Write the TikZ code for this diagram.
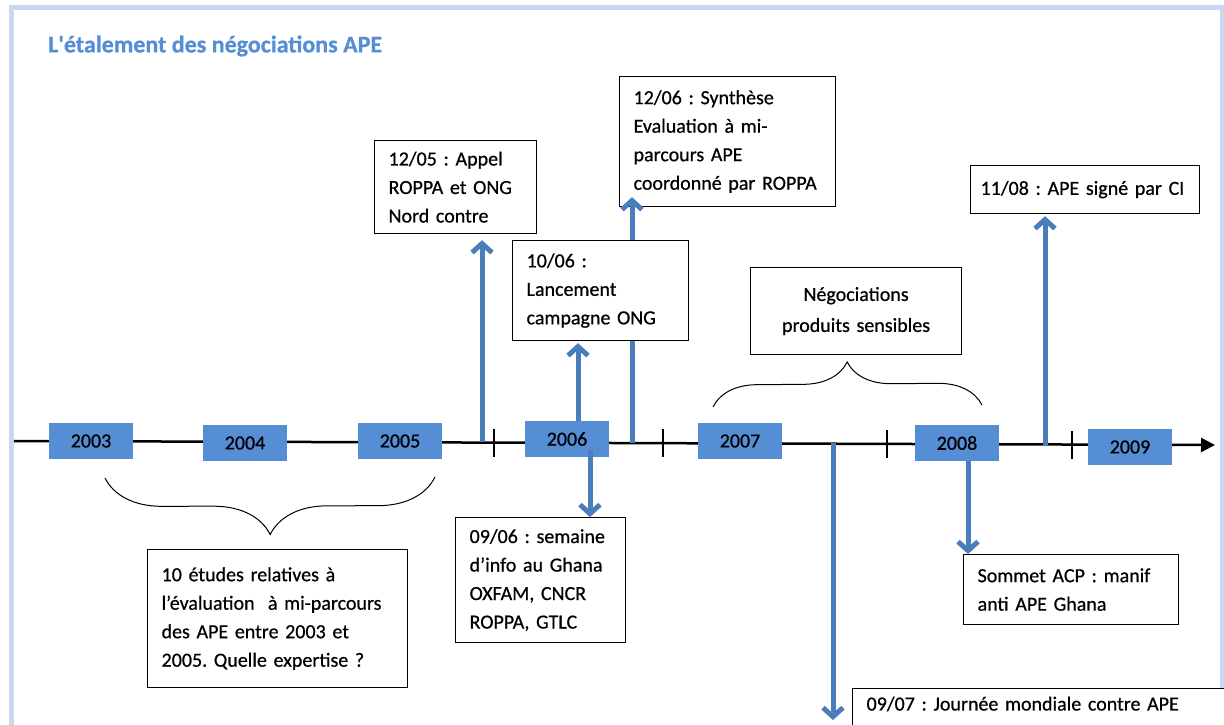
\documentclass[tikz,border=0pt]{standalone}
\usepackage{fontspec}
\setmainfont{Carlito}[FakeBold=0.6]
\usepackage{tikz}
\usetikzlibrary{positioning,calc,arrows.meta,decorations.pathreplacing}
\definecolor{yearblue}{HTML}{558ED5}
\definecolor{arrowblue}{HTML}{4A7EBB}
\definecolor{frameblue}{HTML}{C6D9F1}
\definecolor{titleblue}{HTML}{558ED5}
\frenchspacing
\tikzset{>=stealth,
  evt/.style={draw, fill=white, line width=1.2pt, align=left, anchor=north west,
    inner xsep=14pt, inner ysep=0pt, font=\fontsize{20}{28.5}\selectfont},
  yr/.style={fill=yearblue, minimum width=84pt, minimum height=36pt, inner sep=0pt,
    font=\fontsize{20}{24}\selectfont},
  evarrow/.style={arrowblue, line width=5pt, -{Straight Barb[length=9pt,width=20pt]}},
  yrtick/.style={line width=2.5pt},
  curly/.style={decorate, decoration={brace, amplitude=#1}, line width=1pt}
}

\begin{document}
\begin{tikzpicture}[x=1pt,y=-1pt]
\useasboundingbox (0,0) rectangle (1224,724);
\clip (0,0) rectangle (1224,724);
% cadre
\draw[frameblue, line width=5pt] (11,760) -- (11,7) -- (1222,7) -- (1222,760);
\node[anchor=west, inner sep=0pt, text=titleblue, font=\bfseries\fontsize{24}{28}\selectfont] (title) at (48,46) {L\textquotesingle étalement des négociations APE};
% axe du temps
\coordinate (tlstart) at (14,441);
\coordinate (tlend) at (1215,445);
\draw[line width=2.5pt, -{Triangle[length=14pt,width=14pt]}] (tlstart) -- (tlend);
\foreach \x/\y in {494/443,663/443,887/444,1072/445} {
  \draw[yrtick] (\x,\y-14) -- (\x,\y+14);
}
\node[yr] (y2003) at (91,441) {2003};
\node[yr] (y2004) at (245,443) {2004};
\node[yr] (y2005) at (400,441) {2005};
\node[yr] (y2006) at (567,439) {2006};
\node[yr] (y2007) at (740,441) {2007};
\node[yr] (y2008) at (957,443) {2008};
\node[yr] (y2009) at (1130,447) {2009};
% accolades
\coordinate (br1a) at (435,477);
\coordinate (br1b) at (105,478);
\draw[curly=57pt] (br1a) -- (br1b);
\coordinate (br2a) at (713,407);
\coordinate (br2b) at (982,405);
\draw[curly=44pt] (br2a) -- (br2b);
% evenements
\node[evt, text width=134pt, minimum height=93pt] (b1205) at (374,140) {12/05 : Appel\\ROPPA et ONG\\Nord contre};
\node[evt, text width=188pt, minimum height=130pt] (b1206) at (619,76) {12/06 : Synthèse\\Evaluation à mi-\\parcours APE\\coordonné par ROPPA};
\coordinate (t1206) at (632,443);
\draw[evarrow, shorten >=-10pt] (t1206) -- (t1206 |- b1206.south);
\node[evt, text width=148pt, minimum height=100pt] (b1006) at (512,240) {10/06 :\\Lancement\\campagne ONG};
\node[evt, text width=142pt, minimum height=125pt] (b0906) at (455,517) {09/06 : semaine\\d’info au Ghana\\OXFAM, CNCR\\ROPPA, GTLC};
\node[evt, text width=232pt, minimum height=138pt] (b0305) at (147,549) {10 études relatives à\\l’évaluation \ à mi-parcours\\des APE entre 2003 et\\2005. Quelle expertise ?};
\node[evt, align=center, text width=183pt, minimum height=87pt, font=\fontsize{20}{31}\selectfont] (bnego) at (750,267) {Négociations\\produits sensibles};
\node[evt, inner xsep=10pt, text width=209pt, minimum height=48pt] (b1108) at (970,165) {11/08 : APE signé par CI};
\node[evt, text width=187pt, minimum height=70pt] (bacp) at (963,554) {Sommet ACP : manif\\anti APE Ghana};
\node[evt, text width=360pt, inner ysep=8pt, text depth=30pt] (b0907) at (852,688) {09/07 : Journée mondiale contre APE};
% fleches
\coordinate (t1205) at (482,442);
\draw[evarrow, shorten >=6pt] (t1205) -- (t1205 |- b1205.south);
\coordinate (t1006) at ($(y2006.north)+(11,0)$);
\draw[evarrow, shorten >=2pt] (t1006) -- (t1006 |- b1006.south);
\coordinate (t1108) at (1045,446);
\draw[evarrow, shorten >=2pt] (t1108) -- (t1108 |- b1108.south);
\coordinate (t0906) at ($(y2006.south)+(23,-7)$);
\draw[evarrow] (t0906) -- (t0906 |- b0906.north);
\coordinate (t0907) at (833,443);
\coordinate (e0907) at (833,720);
\draw[evarrow] (t0907) -- (e0907);
\coordinate (tacp) at ($(y2008.south)+(11,0)$);
\draw[evarrow] (tacp) -- (tacp |- bacp.north);
\end{tikzpicture}
\end{document}
